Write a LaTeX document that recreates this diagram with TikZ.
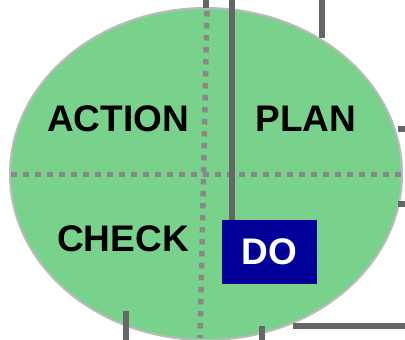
\documentclass[tikz,border=0pt]{standalone}
\usepackage{fontspec}
\setmainfont{Liberation Sans}
\usetikzlibrary{shapes.geometric}
\definecolor{cyclegreen}{HTML}{78D28C}
\definecolor{rimgray}{HTML}{BBBBBB}
\definecolor{dotgray}{HTML}{888888}
\definecolor{linegray}{HTML}{666666}
\definecolor{doblue}{HTML}{000099}
\begin{document}
\begin{tikzpicture}[x=1pt,y=-1pt,
  phase/.style={font=\fontsize{37}{37}\selectfont\bfseries, text=black},
  dotline/.style={draw=dotgray, line width=5.5pt, dash pattern=on 5.5pt off 6.5pt},
  solidline/.style={draw=linegray, line width=6pt}]
\useasboundingbox (0,0) rectangle (405,340);
\node[ellipse, draw=rimgray, line width=2pt, fill=cyclegreen,
  minimum width=392pt, minimum height=332pt, inner sep=0pt] (cycle) at (206,174) {};
% dotted quadrant dividers
\draw[dotline] (11,174.5) -- (402,174.5);
\draw[dotline] (207,11) -- (200,338);
\draw[draw=linegray, line width=6pt] (206,0) -- (206,8);
% labels
\node[phase] (action) at (118,119) {ACTION};
\node[phase] (plan) at (306,119) {PLAN};
\node[phase] (check) at (123,239) {CHECK};
\node[fill=doblue, text=white, font=\fontsize{37}{37}\selectfont\bfseries,
  minimum width=95pt, minimum height=64pt, inner sep=0pt] (do) at (269.5,252) {DO};
% solid connector fragments
\coordinate (topin) at (232,0);
\draw[solidline] (topin) -- (do.north -| topin);
\draw[solidline] (322,0) -- (322,38);
\draw[solidline] (398,129) -- (405,129);
\draw[solidline] (398,204) -- (405,204);
\draw[solidline] (126,311) -- (126,340);
\draw[solidline] (262,326) -- (262,340);
\draw[solidline] (293,326) -- (405,326);
\end{tikzpicture}
\end{document}
